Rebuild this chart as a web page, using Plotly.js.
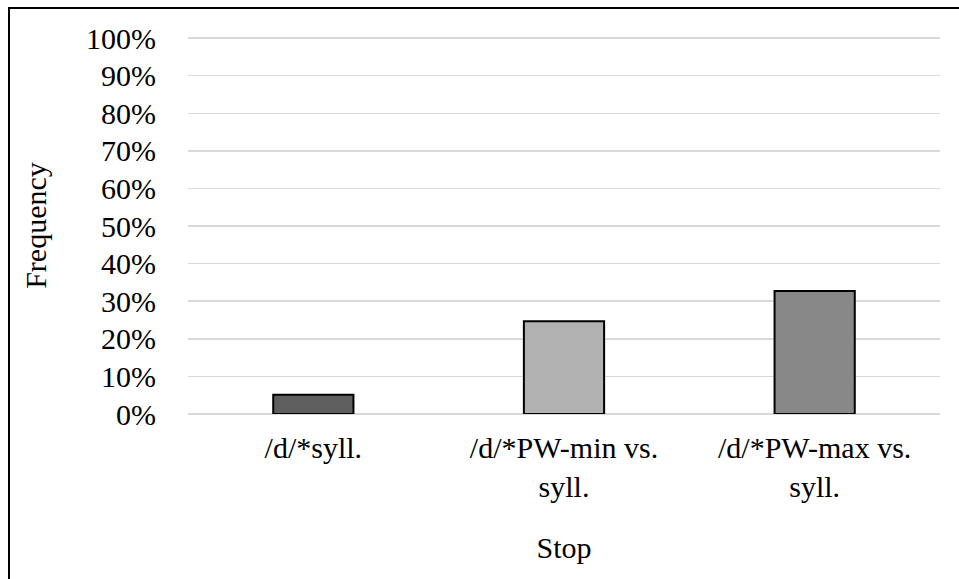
<!DOCTYPE html>
<html>
<head>
<meta charset="utf-8">
<script src="https://cdn.plot.ly/plotly-3.0.1.min.js"></script>
<style>
  html, body { margin: 0; padding: 0; background: #ffffff; overflow: hidden; }
  #wrap { position: relative; width: 959px; height: 579px; }
  #chart { position: absolute; left: 0; top: 0; width: 959px; height: 579px; }
  #frame { position: absolute; left: 8px; top: 7px; width: 960px; height: 580px;
           border-left: 2px solid #000; border-top: 2px solid #000; pointer-events: none; }
</style>
</head>
<body>
<div id="wrap">
  <div id="chart"></div>
  <div id="frame"></div>
</div>
<script>
// Stop categories and their observed frequencies
const categories = ['/d/*syll.', '/d/*PW-min vs.<br>syll.', '/d/*PW-max vs.<br>syll.'];
const frequency = [0.051, 0.247, 0.327];
const barColors = ['#5f5f5f', '#b1b1b1', '#888888'];
const yTickValues = [0, 0.1, 0.2, 0.3, 0.4, 0.5, 0.6, 0.7, 0.8, 0.9, 1.0];

const serif = '"Liberation Serif", "Times New Roman", serif';

const trace = {
  type: 'bar',
  x: categories,
  y: frequency,
  width: 0.32,
  marker: { color: barColors, line: { color: '#000000', width: 2 } },
  hoverinfo: 'skip'
};

const layout = {
  width: 959,
  height: 579,
  margin: { l: 188, r: 19, t: 37, b: 165, pad: 0 },
  paper_bgcolor: '#ffffff',
  plot_bgcolor: '#ffffff',
  showlegend: false,
  font: { family: serif, size: 30, color: '#000000' },
  xaxis: {
    type: 'category',
    showgrid: false,
    showline: false,
    zeroline: false,
    ticks: 'outside',
    ticklen: 7,
    tickcolor: 'rgba(0,0,0,0)',
    tickfont: { family: serif, size: 30, color: '#000000' },
    title: { text: 'Stop', font: { family: serif, size: 30, color: '#000000' }, standoff: 34 }
  },
  yaxis: {
    range: [0, 1.003],
    tickvals: yTickValues,
    tickformat: '.0%',
    showgrid: true,
    gridcolor: '#d9d9d9',
    gridwidth: 1.5,
    zeroline: true,
    zerolinecolor: '#d9d9d9',
    zerolinewidth: 1.5,
    showline: false,
    ticks: 'outside',
    ticklen: 25,
    tickcolor: 'rgba(0,0,0,0)',
    tickfont: { family: serif, size: 30, color: '#000000' },
    title: { text: 'Frequency', font: { family: serif, size: 30, color: '#000000' }, standoff: 30 }
  }
};

Plotly.newPlot('chart', [trace], layout, { displayModeBar: false, staticPlot: true });
</script>
</body>
</html>
